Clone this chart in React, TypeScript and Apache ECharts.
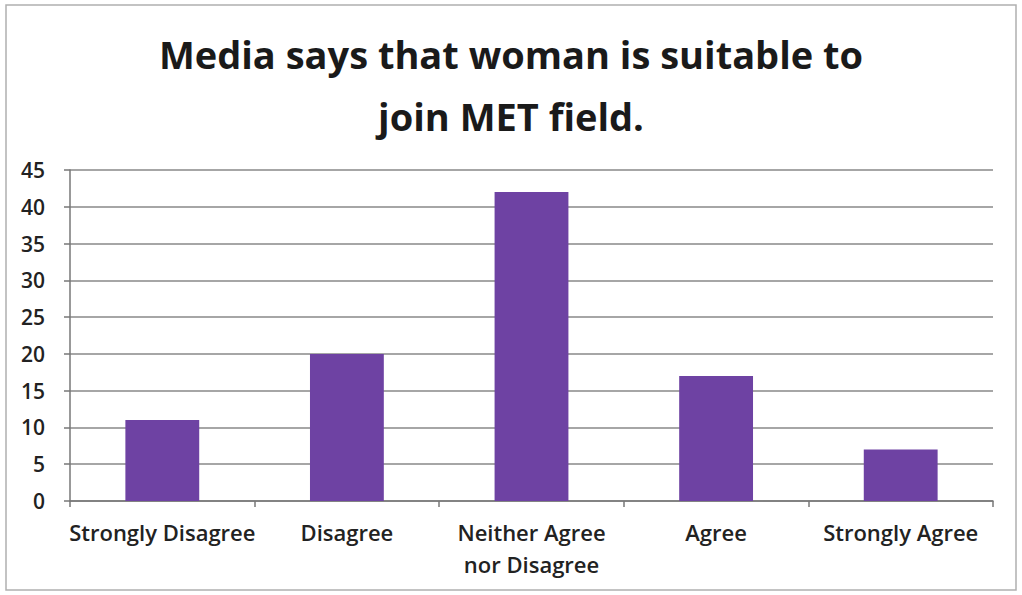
import React, { useEffect, useRef } from "react";
import * as echarts from "echarts";

const titleText = "Media says that woman is suitable to\njoin MET field.";
const categories = ["Strongly Disagree", "Disagree", "Neither Agree\nnor Disagree", "Agree", "Strongly Agree"];
const values = [11, 20, 42, 17, 7];
const yTicks = [0, 5, 10, 15, 20, 25, 30, 35, 40, 45];

export default function App() {
  const ref = useRef<HTMLDivElement>(null);
  useEffect(() => {
    if (!ref.current) return;
    const chart = echarts.init(ref.current, null, { renderer: "svg" });
    chart.setOption({
      animation: false,
      backgroundColor: "#ffffff",
      title: {
        text: titleText,
        left: "center",
        top: 18,
        textStyle: {
          fontFamily: "Open Sans",
          fontWeight: "bold",
          fontSize: 38,
          lineHeight: 62,
          color: "#1a1a1a",
        },
      },
      graphic: [
        {
          type: "rect",
          shape: { x: 6, y: 5, width: 1010, height: 585 },
          style: { fill: "none", stroke: "#b0b0b0", lineWidth: 1.5 },
          silent: true,
        },
      ],
      grid: { left: 70, right: 29, top: 170, bottom: 94 },
      xAxis: {
        type: "category",
        data: categories,
        axisLine: { lineStyle: { color: "#777", width: 1.5 } },
        axisTick: { show: true, length: 6, alignWithLabel: false, lineStyle: { color: "#777", width: 1.5 } },
        axisLabel: {
          fontFamily: "Open Sans",
          fontWeight: 600,
          fontSize: 22,
          color: "#222",
          margin: 15,
          lineHeight: 32,
          interval: 0,
        },
      },
      yAxis: {
        type: "value",
        min: yTicks[0],
        max: yTicks[yTicks.length - 1],
        interval: 5,
        axisLine: { show: true, lineStyle: { color: "#777", width: 1.5 } },
        axisTick: { show: true, length: 6, lineStyle: { color: "#777", width: 1.5 } },
        splitLine: { lineStyle: { color: "#888", width: 1.5 } },
        axisLabel: {
          fontFamily: "Open Sans",
          fontWeight: 600,
          fontSize: 21,
          color: "#222",
          margin: 25,
        },
      },
      series: [
        {
          type: "bar",
          data: values,
          barWidth: "40%",
          itemStyle: { color: "#6e42a3" },
        },
      ],
    });
    return () => chart.dispose();
  }, []);
  return <div ref={ref} style={{ width: 1022, height: 595, position: "absolute", left: 0, top: 0 }} />;
}
